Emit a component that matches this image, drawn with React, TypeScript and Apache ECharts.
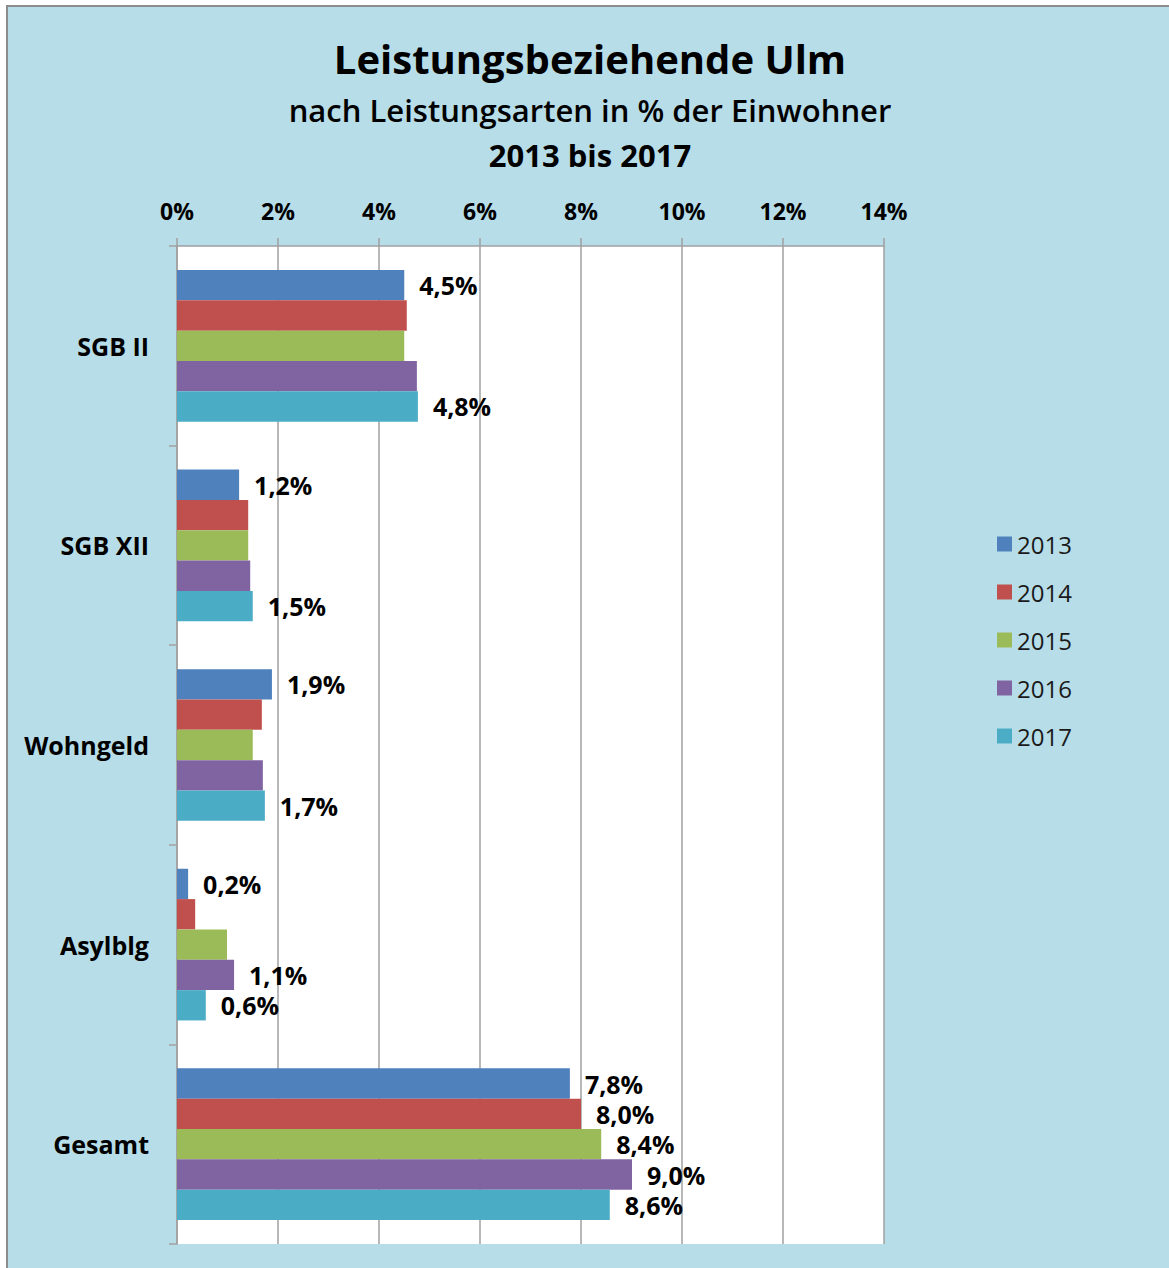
import React, { useEffect, useRef } from "react";
import * as echarts from "echarts";

const categories = ["SGB II", "SGB XII", "Wohngeld", "Asylblg", "Gesamt"];
const years = ["2013", "2014", "2015", "2016", "2017"];
const v2013 = [4.5, 1.23, 1.88, 0.22, 7.78];
const v2014 = [4.55, 1.41, 1.68, 0.36, 8.0];
const v2015 = [4.5, 1.41, 1.5, 0.99, 8.4];
const v2016 = [4.75, 1.45, 1.7, 1.13, 9.01];
const v2017 = [4.77, 1.5, 1.74, 0.57, 8.57];
const seriesValues = [v2013, v2014, v2015, v2016, v2017];
// which value labels are shown (per year, per category)
const showLabel2013 = [true, true, true, true, true];
const showLabel2014 = [false, false, false, false, true];
const showLabel2015 = [false, false, false, false, true];
const showLabel2016 = [false, false, false, true, true];
const showLabel2017 = [true, true, true, true, true];
const shownLabels = [showLabel2013, showLabel2014, showLabel2015, showLabel2016, showLabel2017];
const xTicks = [0, 2, 4, 6, 8, 10, 12, 14];
const colors = ["#4f81bd", "#c0504d", "#9bbb59", "#8064a2", "#4bacc6"];

const FONT = "'Open Sans', 'DejaVu Sans', sans-serif";

export default function App() {
  const ref = useRef<HTMLDivElement>(null);
  useEffect(() => {
    if (!ref.current) return;
    const chart = echarts.init(ref.current, null, { renderer: "svg" });
    const fmt = (v: number) => v.toFixed(1).replace(".", ",") + "%";
    chart.setOption({
      animation: false,
      backgroundColor: "#ffffff",
      color: colors,
      graphic: [
        {
          type: "rect",
          z: -10,
          silent: true,
          shape: { x: 7, y: 6, width: 1180, height: 1280 },
          style: { fill: "#b7dde8", stroke: "#8c8c8c", lineWidth: 2 },
        },
        {
          type: "text",
          x: 590,
          y: 58,
          style: {
            text: "Leistungsbeziehende Ulm",
            font: `bold 40px ${FONT}`,
            fill: "#000",
            textAlign: "center",
            textVerticalAlign: "middle",
          },
        },
        {
          type: "text",
          x: 590,
          y: 110,
          style: {
            text: "nach Leistungsarten in % der Einwohner",
            font: `600 31px ${FONT}`,
            fill: "#000",
            textAlign: "center",
            textVerticalAlign: "middle",
          },
        },
        {
          type: "text",
          x: 590,
          y: 155,
          style: {
            text: "2013 bis 2017",
            font: `bold 31px ${FONT}`,
            fill: "#000",
            textAlign: "center",
            textVerticalAlign: "middle",
          },
        },
      ],
      grid: {
        left: 177,
        right: 285,
        top: 246,
        bottom: 24,
        show: true,
        backgroundColor: "#ffffff",
        borderWidth: 0,
      },
      legend: {
        orient: "vertical",
        left: 992,
        top: 527,
        itemWidth: 15,
        itemHeight: 15,
        itemGap: 24,
        icon: "rect",
        data: years,
        textStyle: { fontFamily: FONT, fontSize: 24, lineHeight: 24, color: "#1a1a1a" },
      },
      xAxis: {
        type: "value",
        position: "top",
        min: xTicks[0],
        max: xTicks[xTicks.length - 1],
        interval: 2,
        axisLine: { show: true, lineStyle: { color: "#a0a0a0", width: 1.5 } },
        axisTick: { show: true, length: 8, lineStyle: { color: "#a0a0a0", width: 1.5 } },
        splitLine: { show: true, lineStyle: { color: "#a0a0a0", width: 1.5 } },
        axisLabel: {
          margin: 24,
          formatter: (v: number) => `${v}%`,
          fontFamily: FONT,
          fontSize: 23,
          fontWeight: "bold",
          color: "#000",
        },
      },
      yAxis: {
        type: "category",
        inverse: true,
        data: categories,
        axisLine: { show: true, lineStyle: { color: "#a0a0a0", width: 1.5 } },
        axisTick: { show: true, length: 8, lineStyle: { color: "#a0a0a0", width: 1.5 } },
        axisLabel: {
          margin: 28,
          fontFamily: FONT,
          fontSize: 25,
          fontWeight: "bold",
          color: "#000",
        },
      },
      series: years.map((y, si) => ({
        name: y,
        type: "bar",
        barGap: "0%",
        barCategoryGap: "24%",
        data: seriesValues[si].map((v, ci) => ({
          value: v,
          label: { show: shownLabels[si][ci] },
        })),
        itemStyle: { color: colors[si] },
        label: {
          position: "right",
          distance: 15,
          formatter: (p: any) => fmt(p.value),
          fontFamily: FONT,
          fontSize: 25,
          fontWeight: "bold",
          color: "#000",
        },
      })),
    });
    return () => chart.dispose();
  }, []);
  return (
    <div
      ref={ref}
      style={{ position: "absolute", left: 0, top: 0, width: 1169, height: 1268 }}
    />
  );
}
